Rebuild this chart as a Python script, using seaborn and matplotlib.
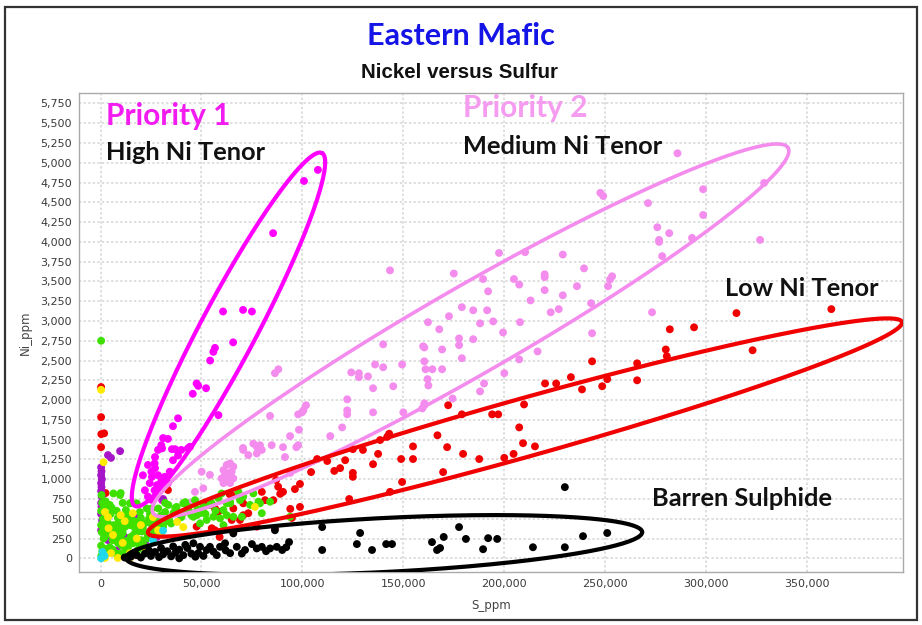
import numpy as np
import pandas as pd
import matplotlib
matplotlib.use("Agg")
import matplotlib.pyplot as plt
from matplotlib.patches import Rectangle
import seaborn as sns

# ---------------- data (S_ppm, Ni_ppm) ----------------
magenta_s = [100800, 107700, 85500, 60700, 70600, 75000, 65700, 56700, 55900, 54300, 47600, 48400, 52300, 45700,
             58400, 38400, 35900, 31000, 33400, 44300, 30500, 35400, 37000, 40000, 43300, 28500, 30100, 35900,
             38400, 27000, 23500, 26800, 25200, 27000, 28500, 31800, 34300, 21000, 25500, 30100, 33400, 24400,
             22000, 26800, 28000, 27600, 23500, 25200, 30500]
magenta_ni = [4770, 4910, 4110, 3120, 3140, 3120, 2730, 2660, 2610, 2500, 2210, 2180, 2150, 2080,
              1810, 1770, 1670, 1520, 1510, 1410, 1390, 1380, 1380, 1370, 1390, 1370, 1430, 1240,
              1300, 1280, 1180, 1200, 1095, 1140, 1050, 1030, 1095, 1050, 1030, 970, 950, 950,
              860, 860, 925, 800, 780, 740, 735]

pink_s = [247600, 249000, 197400, 210300, 229000, 143400, 175000, 189500, 204800, 207400, 220000, 220000, 239500,
          253400, 252400, 251400, 192000, 220000, 229000, 236000, 213000, 243000, 179000, 184600, 191500, 227000,
          223000, 172600, 162200, 188000, 194500, 207800, 167800, 199400, 243500, 140000, 177600, 184600, 159800,
          177600, 169200,
          285800, 298500, 328700, 271200, 298500, 275800, 281700, 276700, 276700, 293000, 326700, 278200, 273200,
          160400, 216500, 207400, 179000, 124200, 128000, 128000, 132500, 136000, 140000, 149400, 160400, 161000,
          164400, 169200, 200000, 162000, 162400, 145000, 135000, 190000, 188000, 174400, 160400, 160400, 159400,
          150000, 135000, 122200, 122200, 122200, 101800, 100500, 99800, 97900, 119700, 113800, 98300, 93900,
          97900, 97000, 90400, 91400, 94000,
          86400, 88100, 84000, 70600,
          60900, 62500, 64200, 65800, 61700, 63300, 65000, 62500, 60000, 65800, 64200, 60900, 70700, 73200,
          75700, 77400, 79000, 79900, 77400, 84800, 50100, 54200, 46800, 50900, 44300]
pink_ni = [4620, 4580, 3860, 3870, 3840, 3640, 3600, 3530, 3530, 3460, 3590, 3555, 3665,
           3565, 3525, 3440, 3375, 3390, 3325, 3440, 3260, 3225, 3175, 3135, 3135, 3150,
           3110, 3060, 2985, 2970, 2995, 2985, 2895, 2855, 2845, 2705, 2780, 2770, 2680,
           2695, 2640,
           5120, 4665, 4745, 4490, 4340, 4185, 4110, 4025, 4000, 4050, 4025, 3820, 3110,
           2665, 2615, 2515, 2530, 2350, 2340, 2290, 2300, 2450, 2415, 2450, 2490, 2390,
           2390, 2390, 2340, 2265, 2185, 2175, 2150, 2210, 2110, 2020, 1960, 1935, 1895,
           1845, 1845, 2010, 1870, 1820, 1935, 1870, 1845, 1820, 1655, 1545, 1625, 1545,
           1430, 1405, 1405, 1280, 1080,
           2340, 2390, 1800, 1395,
           1115, 1180, 1200, 1160, 1055, 1075, 1095, 990, 1010, 1010, 950, 950, 1370, 1305,
           1450, 1410, 1430, 1370, 1325, 1430, 1095, 1055, 840, 885, 700]

red_s = [243500, 265800, 220200, 225700, 233000, 238500, 248500, 251000, 265800, 209800, 172200, 179000, 194000,
         197000, 207400, 166900, 138500, 142000, 143000, 154800, 171700, 209300, 215200, 130000, 137500, 179600,
         200000, 204600, 187600, 148900, 154800, 121200, 125000, 135000, 112300, 107300, 115800, 118700, 125000,
         125000, 104300, 169700, 98800, 96300, 149400, 143400, 123200, 98800, 94000, 94800, 89000, 90400,
         315000, 362000, 282000, 294000, 280000, 280500, 323000,
         64000, 69000, 65000, 70700, 79900, 81500, 85600, 88000, 56700, 58400, 65800, 65000, 69100, 70700,
         55100, 56700, 47600, 77400, 73200, 86400, 87000, 59000, 53000, 33400,
         300, 300, 400, 1800, 300, 2500]
red_ni = [2490, 2465, 2210, 2210, 2290, 2135, 2175, 2265, 2250, 1945, 1935, 1820, 1820,
          1820, 1655, 1555, 1495, 1535, 1575, 1415, 1405, 1455, 1415, 1370, 1320, 1320,
          1270, 1320, 1255, 1255, 1255, 1240, 1380, 1190, 1230, 1255, 1105, 1140, 1080,
          1030, 1090, 1090, 940, 875, 965, 840, 750, 650, 625, 510, 815, 840,
          3100, 3150, 2895, 2920, 2640, 2555, 2630,
          810, 790, 800, 695, 840, 735, 735, 905, 630, 590, 630, 485, 485, 545,
          380, 355, 400, 400, 570, 380, 990, 270, 673, 863,
          2165, 1785, 1570, 1580, 1405, 825]

black_s = [230000, 109800, 177600, 128600, 251000, 239000, 170000, 181000, 192000, 196500, 93400, 164200, 127000,
           141500, 144400, 214200, 230000, 92000, 90000, 189500, 168200, 166700, 109800, 134500,
           46000, 49300, 52600, 55900, 59200, 61700, 64200, 67500, 71600, 77400, 79900, 84000, 87300, 86400,
           65800, 54200, 48400, 57600,
           15000, 18000, 20000, 22000, 25000, 27000, 29000, 31000, 33000, 35000, 37000, 39000, 41000, 43000,
           45000, 47000, 24000, 30000, 36000, 42000, 12000, 17000, 39000, 51000, 62000, 70000, 75000, 82000]
black_ni = [900, 395, 395, 320, 320, 280, 270, 245, 255, 245, 205, 205, 180,
            180, 180, 140, 140, 140, 105, 115, 130, 105, 105, 105,
            190, 145, 105, 85, 145, 190, 65, 145, 105, 125, 145, 125, 145, 355,
            315, 145, 65, 40,
            20, 40, 10, 60, 30, 80, 15, 50, 90, 25, 70, 110, 40, 130,
            60, 20, 100, 130, 150, 170, 10, 70, 0, 30, 100, 60, 180, 90]

green_s = [300, 500, 800, 300, 1200, 300, 600, 1500, 300, 900, 400, 1800, 2000,
           10000, 4600, 15000, 12600, 19500, 8600, 3700, 14600, 7200, 12000, 17000, 2200, 10000, 15000, 20000,
           4600, 8600, 13600, 1200, 7200, 18500, 22000, 26000, 23500, 27000, 32000, 37000, 42000, 32000, 43400,
           40000, 45000,
           68300, 69100, 60000, 62500, 64200, 74100, 78200, 79900, 93900, 70000, 65800, 59200, 60900, 54200,
           50900, 47600, 52600, 49300, 55900, 60900, 62500,
           6400, 9700, 14600, 17900, 22900, 25400, 28600, 33600, 37700, 41000, 43500, 46800, 50900, 55100,
           58400, 64200, 70700, 75700, 79000, 84000, 36100, 41000, 46000, 49300,
           5000, 9000, 11000, 16000, 18000, 21000, 24000, 6000, 3000, 13000, 6500, 10500, 14000, 20000, 25000,
           28000, 30000, 34000, 38000, 44000, 48000, 52000, 57000, 35000, 31000,
           2500, 5500, 8000, 11500, 14500, 17500, 20500, 4000, 7000, 10000, 13000, 16500, 19000, 23000,
           3000, 6000, 9500, 12500, 16000, 21500, 1500, 5000, 8500, 11000, 26500, 29500, 33000, 24500]
green_ni = [2750, 800, 700, 600, 500, 420, 330, 250, 160, 90, 30, 640, 380,
            825, 675, 700, 610, 585, 510, 445, 485, 355, 395, 385, 270, 270, 270, 230,
            140, 195, 140, 40, 65, 105, 445, 395, 295, 520, 585, 635, 710, 700, 635,
            520, 545,
            840, 735, 820, 695, 715, 675, 715, 570, 525, 525, 525, 505, 420, 675,
            590, 545, 485, 440, 525, 610, 545,
            820, 800, 695, 695, 630, 630, 630, 675, 650, 695, 650, 735, 650, 695,
            760, 695, 780, 820, 695, 715, 570, 570, 525, 570,
            560, 450, 320, 480, 330, 380, 500, 230, 500, 60, 420, 160, 550, 510, 440,
            460, 540, 500, 580, 590, 620, 560, 600, 440, 400,
            720, 640, 600, 520, 420, 460, 340, 310, 250, 380, 220, 300, 180, 250,
            120, 110, 60, 100, 190, 160, 430, 400, 320, 700, 330, 420, 470, 560]

yellow_s = [300, 1500, 2200, 3700, 10000, 6200, 11000, 5200, 8600, 15000, 2200, 20000, 26000, 28500, 22500,
            16000, 38000, 41000, 76500, 14600, 4000, 12000, 18000, 30000]
yellow_ni = [2130, 1215, 585, 520, 545, 295, 195, 65, 5, 15, 5, 420, 520, 355, 105,
             570, 460, 395, 650, 65, 380, 470, 250, 300]

purple_s = [300, 500, 300, 700, 300, 500, 300, 600, 300, 500, 300, 800, 3700, 5200, 9700,
            5200, 12000, 17000, 3700, 300, 17600, 31000, 8000, 22000, 28000, 2200]
purple_ni = [1150, 1100, 1050, 1000, 950, 900, 850, 780, 700, 650, 560, 480, 1305, 1270, 1355,
             395, 270, 520, 230, 355, 40, 750, 100, 200, 270, 340]

cyan_s = [300, 2000, 26000, 31000, 17000, 1000]
cyan_ni = [0, 30, 230, 350, 60, 80]

x_ticks = [0, 50000, 100000, 150000, 200000, 250000, 300000, 350000]
y_ticks = list(range(0, 5751, 250))

# ---------------- build frame (row order = draw order) ----------------
groups = [("pink", pink_s, pink_ni), ("magenta", magenta_s, magenta_ni), ("red", red_s, red_ni),
          ("purple", purple_s, purple_ni), ("green", green_s, green_ni), ("yellow", yellow_s, yellow_ni),
          ("cyan", cyan_s, cyan_ni), ("black", black_s, black_ni)]
df = pd.concat([pd.DataFrame({"S_ppm": s, "Ni_ppm": n, "group": g}) for g, s, n in groups],
               ignore_index=True)
palette = {"pink": "#F48CEE", "magenta": "#FF00FF", "red": "#F00000", "purple": "#A814C8",
           "green": "#3EE000", "yellow": "#FFEA00", "cyan": "#22D8EC", "black": "#000000"}

sns.set_theme(style="white")
plt.rcParams["font.family"] = ["DejaVu Sans"]

fig = plt.figure(figsize=(9.22, 6.25), dpi=100)
fig.patch.set_facecolor("white")
ax = fig.add_axes([79 / 922, 1 - 572 / 625, (903 - 79) / 922, (572 - 93) / 625])

sns.scatterplot(data=df, x="S_ppm", y="Ni_ppm", hue="group", palette=palette, s=32, linewidth=0,
                legend=False, ax=ax, zorder=3)

ax.set_xlim(-10650, 397500)
ax.set_ylim(-173, 5882)
ax.set_xticks(x_ticks)
ax.set_yticks(y_ticks)
ax.set_xticklabels([f"{v:,}" for v in x_ticks])
ax.set_yticklabels([f"{v:,}" for v in y_ticks])
ax.tick_params(axis="both", labelsize=8, labelcolor="#3a3a3a", length=2, color="#999999", pad=3)
ax.grid(True, color="#d4d4d4", linestyle=(0, (1.5, 1.5)), linewidth=1.1)
ax.set_axisbelow(True)
for sp in ax.spines.values():
    sp.set_color("#aaaaaa")
    sp.set_linewidth(1.0)
ax.set_xlabel("S_ppm", fontsize=8.5, color="#444444", labelpad=7)
ax.set_ylabel("Ni_ppm", fontsize=8.5, color="#444444", labelpad=6)

# ---------------- ellipses (tips in data coords, half-width in pixels) ----------------
ellipses = [
    ((17100, 661), (109700, 5123), 28, "#FF00FF", 3.0),
    ((26000, 573), (340600, 5188), 44, "#F48CEE", 2.6),
    ((23500, 320), (397000, 2987), 29, "#F00000", 3.0),
    ((12600, 4), (268300, 332), 27, "#000000", 3.0),
]
T = ax.transData
for p1, p2, hw, col, lw in ellipses:
    a = T.transform(p1)
    b = T.transform(p2)
    c = (a + b) / 2
    d = b - a
    L = np.hypot(*d) / 2
    u = d / np.hypot(*d)
    v = np.array([-u[1], u[0]])
    t = np.linspace(0, 2 * np.pi, 400)
    pts = c + (L * np.cos(t))[:, None] * u + (hw * np.sin(t))[:, None] * v
    dpts = T.inverted().transform(pts)
    ax.plot(dpts[:, 0], dpts[:, 1], color=col, lw=lw, zorder=4, solid_capstyle="round")

# ---------------- annotations ----------------
lab_font = ["Lato", "DejaVu Sans"]
def ann(px, py, s, col, size):
    fig.text(px / 922, 1 - py / 625, s, color=col, fontsize=size, fontweight="bold",
             family=lab_font, ha="left", va="center")

ann(106, 116, "Priority 1", "#F21CF0", 21.5)
ann(106, 153, "High Ni Tenor", "#111111", 18.3)
ann(463, 108, "Priority 2", "#F59BF0", 21.5)
ann(463, 146, "Medium Ni Tenor", "#111111", 18.3)
ann(725, 289, "Low Ni Tenor", "#111111", 18.3)
ann(652, 499, "Barren Sulphide", "#111111", 18.3)

fig.text(461 / 922, 1 - 36 / 625, "Eastern Mafic", color="#1414E6", fontsize=22, fontweight="bold",
         family=lab_font, ha="center", va="center")
fig.text(459 / 922, 1 - 72 / 625, "Nickel versus Sulfur", color="#111111", fontsize=14.8,
         fontweight="bold", family=["Liberation Sans Narrow", "Liberation Sans", "DejaVu Sans"],
         ha="center", va="center")

fig.patches.append(Rectangle((5 / 922, 1 - 620 / 625), 912 / 922, 613 / 625, transform=fig.transFigure,
                             fill=False, edgecolor="#333333", linewidth=1.6))

fig.savefig("out.png", dpi=100)
